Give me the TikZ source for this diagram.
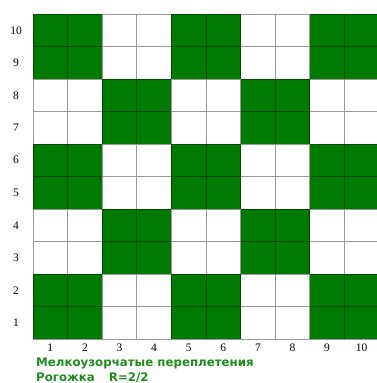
\documentclass[tikz,border=0pt]{standalone}
\usepackage{fontspec}
\setmainfont{Liberation Serif}
\newfontfamily\capfont{DejaVu Sans}
\definecolor{weavegreen}{RGB}{0,122,0}
\definecolor{capgreen}{RGB}{30,140,30}

\begin{document}
\begin{tikzpicture}[x=1pt, y=1pt,
  cellfill/.style={fill=weavegreen},
  gridline/.style={draw=black, draw opacity=0.4, line width=0.9pt},
  numlbl/.style={font=\fontsize{11.5}{13}\selectfont, inner sep=0pt},
  caplbl/.style={font=\capfont\bfseries\fontsize{11.8}{14}\selectfont,
                 text=capgreen, anchor=west, inner sep=0pt}
]
  \useasboundingbox (0,0) rectangle (376,383);

  %% Cells: 2x2 blocks, checkerboard
  \foreach \c in {1,...,10}
    \foreach \r in {1,...,10}{
      \pgfmathtruncatemacro{\k}{mod(floor((\c-1)/2)+floor((\r-1)/2),2)}
      \ifnum\k=0
        \fill[cellfill] ({33+(\c-1)*34.6},{44+(\r-1)*32.5}) rectangle ++(34.6,32.5);
      \fi
    }
  %% Grid lines
  \draw[gridline, shift={(33,44)}] (0,0) grid[xstep=34.6, ystep=32.5] (346.1,325.1);

  %% Row and column numbers
  \foreach \r in {1,...,10}
    \node[numlbl] (row\r) at (16,{44+(\r-0.5)*32.5}) {\r};
  \foreach \c in {1,...,10}
    \node[numlbl] (col\c) at ({33+(\c-0.5)*34.6},35) {\c};

  %% Caption
  \node[caplbl] (cap1) at (36,19.5) {Мелкоузорчатые переплетения};
  \node[caplbl] (cap2) at (36,5.5) {Рогожка\hspace{14pt}R=2/2};
\end{tikzpicture}
\end{document}
